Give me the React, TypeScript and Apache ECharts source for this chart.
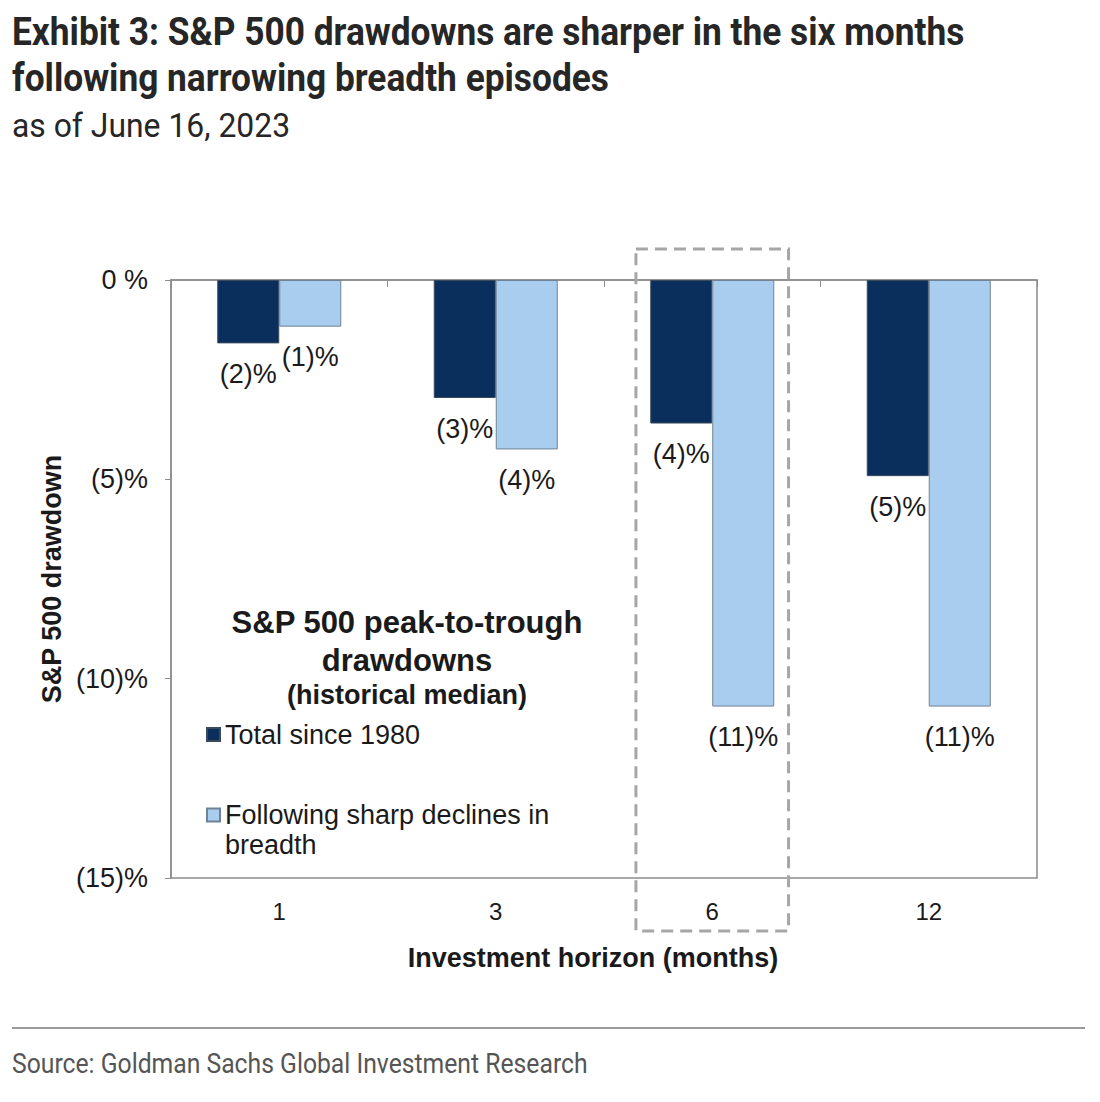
import React, { useEffect, useRef } from "react";
import * as echarts from "echarts";

const categories = ["1", "3", "6", "12"];
const totalSince1980 = [-1.59, -2.96, -3.6, -4.92];
const afterBreadthDeclines = [-1.17, -4.25, -10.7, -10.7];
const seriesNames = ["Total since 1980", "Following sharp declines in breadth"];
const yTickValues = [0, -5, -10, -15];
const highlightCategory = "6";
const titleLines = [
  "Exhibit 3: S&P 500 drawdowns are sharper in the six months",
  "following narrowing breadth episodes",
];
const subtitleText = "as of June 16, 2023";
const sourceText = "Source: Goldman Sachs Global Investment Research";

const DARK = "#0b2f5c";
const LIGHT = "#a9cdef";
const AXIS_GRAY = "#8c8c8c";
const TEXT = "#1a1a1a";
const COND = "Roboto, 'Liberation Sans', sans-serif";
const SANS = "'Liberation Sans', Arial, sans-serif";

const pctLabel = (v: number) => (v === 0 ? "0 %" : `(${Math.round(-v)})%`);

function measure(text: string, font: string): number {
  const c = document.createElement("canvas");
  const ctx = c.getContext("2d");
  if (!ctx) return text.length * 10;
  ctx.font = font;
  return ctx.measureText(text).width;
}

export default function App() {
  const ref = useRef<HTMLDivElement>(null);
  useEffect(() => {
    if (!ref.current) return;
    const chart = echarts.init(ref.current, null, { renderer: "svg" });

    const titleFont = `bold 38px Roboto`;
    const subFont = `33px Roboto`;
    const srcFont = `27px Roboto`;
    const titleScale = 953 / measure(titleLines[0], titleFont);
    const subScale = 278 / measure(subtitleText, subFont);
    const srcScale = 576 / measure(sourceText, srcFont);

    const labelStyle = {
      show: true,
      position: "bottom" as const,
      distance: 17,
      fontFamily: SANS,
      fontSize: 27,
      color: TEXT,
      formatter: (p: any) => pctLabel(p.value),
    };
    const baseGraphic: any[] = [
      ...titleLines.map((t, i) => ({
        id: "title" + i,
        type: "text",
        x: 12,
        y: 32 + i * 46,
        scaleX: titleScale,
        style: {
          text: t,
          font: `bold 38px ${COND}`,
          fill: "#262626",
          verticalAlign: "middle",
        },
      })),
      {
        id: "subtitle",
        type: "text",
        x: 12,
        y: 126,
        scaleX: subScale,
        style: { text: subtitleText, font: `33px ${COND}`, fill: "#262626", verticalAlign: "middle" },
      },
      {
        id: "sep",
        type: "line",
        shape: { x1: 12, y1: 1028, x2: 1085, y2: 1028 },
        style: { stroke: "#9a9a9a", lineWidth: 2 },
      },
      {
        id: "source",
        type: "text",
        x: 12,
        y: 1064,
        scaleX: srcScale,
        style: { text: sourceText, font: `27px ${COND}`, fill: "#555555", verticalAlign: "middle" },
      },
    ];
    const option: any = {
      animation: false,
      backgroundColor: "#ffffff",
      title: {
        text: "S&P 500 peak-to-trough\ndrawdowns",
        subtext: "(historical median)",
        left: 407,
        textAlign: "center",
        top: 603,
        padding: 0,
        itemGap: 0,
        textStyle: { fontFamily: SANS, fontWeight: "bold", fontSize: 31, lineHeight: 38, color: TEXT },
        subtextStyle: { fontFamily: SANS, fontWeight: "bold", fontSize: 27, lineHeight: 32, color: TEXT },
      },
      legend: [
        {
          data: [seriesNames[0]],
          left: 206,
          top: 721,
          padding: 0,
          icon: "rect",
          itemWidth: 13,
          itemHeight: 13,
          selectedMode: false,
          textStyle: { fontFamily: SANS, fontSize: 27, color: TEXT },
        },
        {
          data: [seriesNames[1]],
          left: 206,
          top: 770,
          padding: 0,
          icon: "rect",
          itemWidth: 13,
          itemHeight: 13,
          selectedMode: false,
          formatter: () => " \nFollowing sharp declines in\nbreadth",
          textStyle: { fontFamily: SANS, fontSize: 27, lineHeight: 30, color: TEXT },
        },
      ],
      grid: {
        left: 171,
        right: 63,
        top: 280,
        bottom: 224,
        show: true,
        borderColor: AXIS_GRAY,
        borderWidth: 1.5,
        backgroundColor: "transparent",
      },
      xAxis: [
        {
          type: "category",
          data: categories,
          position: "top",
          axisLine: { onZero: false, lineStyle: { color: AXIS_GRAY, width: 1.5 } },
          axisTick: { show: true, inside: true, length: 7, lineStyle: { color: AXIS_GRAY } },
          axisLabel: { show: false },
        },
        {
          type: "category",
          data: categories,
          position: "bottom",
          axisLine: { show: false },
          axisTick: { show: false },
          axisLabel: { fontFamily: SANS, fontSize: 24, color: TEXT, margin: 21 },
          name: "Investment horizon (months)",
          nameLocation: "middle",
          nameGap: 66,
          nameTextStyle: { fontFamily: SANS, fontWeight: "bold", fontSize: 27, color: TEXT, padding: [0, 22, 0, 0] },
        },
      ],
      yAxis: {
        type: "value",
        min: -15,
        max: 0,
        interval: 5,
        splitLine: { show: false },
        axisLine: { show: true, lineStyle: { color: AXIS_GRAY, width: 1.5 } },
        axisTick: { show: true, length: 6, lineStyle: { color: AXIS_GRAY } },
        axisLabel: {
          fontFamily: SANS,
          fontSize: 27,
          color: TEXT,
          margin: 23,
          formatter: (v: number) => (yTickValues.includes(v) ? pctLabel(v) : ""),
        },
        name: "S&P 500 drawdown",
        nameLocation: "middle",
        nameRotate: 90,
        nameGap: 104,
        nameTextStyle: { fontFamily: SANS, fontWeight: "bold", fontSize: 27, color: TEXT },
      },
      series: [
        {
          name: seriesNames[0],
          type: "bar",
          xAxisIndex: 0,
          data: totalSince1980,
          barWidth: 62,
          barGap: "0%",
          itemStyle: { color: DARK, borderColor: "#3a4a5c", borderWidth: 1 },
          label: labelStyle,
        },
        {
          name: seriesNames[1],
          type: "bar",
          xAxisIndex: 0,
          data: afterBreadthDeclines,
          barWidth: 62,
          barGap: "0%",
          itemStyle: { color: LIGHT, borderColor: "#6f8296", borderWidth: 1 },
          label: labelStyle,
        },
      ],
      graphic: baseGraphic,
    };
    chart.setOption(option);

    const idx = categories.indexOf(highlightCategory);
    const cx = chart.convertToPixel({ xAxisIndex: 0 }, highlightCategory) as number;
    const step = Math.abs(
      (chart.convertToPixel({ xAxisIndex: 0 }, categories[1]) as number) -
        (chart.convertToPixel({ xAxisIndex: 0 }, categories[0]) as number)
    );
    const yTop = chart.convertToPixel({ yAxisIndex: 0 }, 0) as number;
    const yBot = chart.convertToPixel({ yAxisIndex: 0 }, -15) as number;
    if (idx >= 0) {
      const w = step * 0.705;
      chart.setOption({
        graphic: [
          ...baseGraphic,
          {
            id: "highlight",
            type: "rect",
            z: 100,
            shape: { x: cx - w / 2, y: yTop - 31, width: w, height: yBot - yTop + 84 },
            style: { fill: "none", stroke: "#a6a6a6", lineWidth: 3, lineDash: [12, 7] },
          },
        ],
      });
    }
    return () => chart.dispose();
  }, []);
  return (
    <div
      ref={ref}
      style={{ position: "absolute", left: 0, top: 0, width: 1100, height: 1102, background: "#fff" }}
    />
  );
}
